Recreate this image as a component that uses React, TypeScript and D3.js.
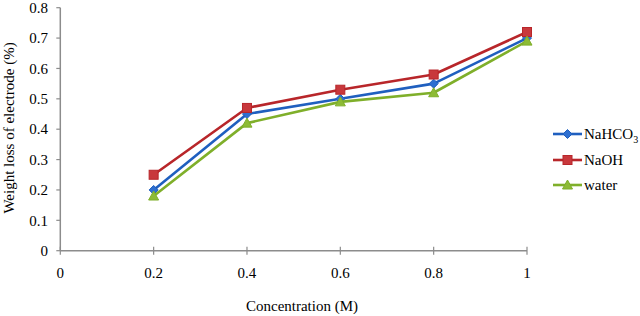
import React from "react";
import * as d3 from "d3";

const concentrations = [0.2, 0.4, 0.6, 0.8, 1];
const nahco3 = [0.2, 0.45, 0.5, 0.55, 0.7];
const naoh = [0.25, 0.47, 0.53, 0.58, 0.72];
const water = [0.18, 0.42, 0.49, 0.52, 0.69];
const xTicks = [0, 0.2, 0.4, 0.6, 0.8, 1];
const yTicks = [0, 0.1, 0.2, 0.3, 0.4, 0.5, 0.6, 0.7, 0.8];

const W = 640;
const H = 316;
const FONT = "Liberation Serif";

const x = d3.scaleLinear().domain([0, 1]).range([60.3, 527]);
const y = d3.scaleLinear().domain([0, 0.8]).range([250.7, 7.7]);

const series = [
  { name: "NaHCO3", values: nahco3, color: "#1F5FBF", fill: "#2E6FD0", marker: "diamond" },
  { name: "NaOH", values: naoh, color: "#B8262A", fill: "#C8383C", marker: "square" },
  { name: "water", values: water, color: "#7FAF2A", fill: "#8DBB35", marker: "triangle" },
];

function Marker({ type, cx, cy, color, fill }: { type: string; cx: number; cy: number; color: string; fill: string }) {
  if (type === "square") {
    return <rect x={cx - 4.5} y={cy - 4.5} width={9} height={9} fill={fill} stroke={color} strokeWidth={1} />;
  }
  if (type === "diamond") {
    const s = 4.5;
    return <path d={`M${cx},${cy - s}L${cx + s},${cy}L${cx},${cy + s}L${cx - s},${cy}Z`} fill={fill} stroke={color} strokeWidth={1} />;
  }
  const s = 5;
  return <path d={`M${cx},${cy - s}L${cx + s},${cy + s * 0.8}L${cx - s},${cy + s * 0.8}Z`} fill={fill} stroke={color} strokeWidth={1} />;
}

const textStyle: React.CSSProperties = { fontFamily: FONT, fontSize: 15 };

export default function App() {
  const line = d3
    .line<number>()
    .x((_, i) => x(concentrations[i]))
    .y((d) => y(d));

  const legendY = [134, 160, 185];

  return (
    <svg width={W} height={H} style={{ position: "absolute", left: 0, top: 0, background: "#fff", fontFamily: FONT }}>
      {/* y axis */}
      <line x1={x(0)} x2={x(0)} y1={y(0.8)} y2={y(0)} stroke="#8c8c8c" strokeWidth={1.5} />
      {yTicks.map((t) => (
        <g key={"y" + t}>
          <line x1={x(0) - 4} x2={x(0)} y1={y(t)} y2={y(t)} stroke="#8c8c8c" strokeWidth={1.2} />
          <text x={48} y={y(t)} dy="0.35em" textAnchor="end" style={textStyle} fill="#000">
            {t}
          </text>
        </g>
      ))}
      {/* x axis */}
      <line x1={x(0)} x2={x(1)} y1={y(0)} y2={y(0)} stroke="#8c8c8c" strokeWidth={1.5} />
      {xTicks.map((t) => (
        <g key={"x" + t}>
          <line x1={x(t)} x2={x(t)} y1={y(0) - 4} y2={y(0) + 4} stroke="#8c8c8c" strokeWidth={1.2} />
          <text x={x(t)} y={278} textAnchor="middle" style={textStyle} fill="#000">
            {t}
          </text>
        </g>
      ))}
      <text x={302} y={311} textAnchor="middle" style={textStyle} fill="#000">
        Concentration (M)
      </text>
      <text transform={`translate(14,128) rotate(-90)`} textAnchor="middle" style={textStyle} fill="#000">
        Weight loss of electrode (%)
      </text>

      {series.map((s) => (
        <g key={s.name}>
          <path d={line(s.values) || ""} fill="none" stroke={s.color} strokeWidth={2.6} strokeLinejoin="round" />
          {s.values.map((v, i) => (
            <Marker key={i} type={s.marker} cx={x(concentrations[i])} cy={y(v)} color={s.color} fill={s.fill} />
          ))}
        </g>
      ))}

      {/* legend */}
      {series.map((s, i) => (
        <g key={"lg" + s.name}>
          <line x1={553} x2={582} y1={legendY[i]} y2={legendY[i]} stroke={s.color} strokeWidth={2.6} />
          <Marker type={s.marker} cx={567.5} cy={legendY[i]} color={s.color} fill={s.fill} />
          <text x={584} y={legendY[i]} dy="0.35em" style={textStyle} fill="#000">
            {s.name === "NaHCO3" ? (
              <>
                NaHCO
                <tspan style={{ fontSize: 10 }} dy={4}>
                  3
                </tspan>
              </>
            ) : (
              s.name
            )}
          </text>
        </g>
      ))}
    </svg>
  );
}
